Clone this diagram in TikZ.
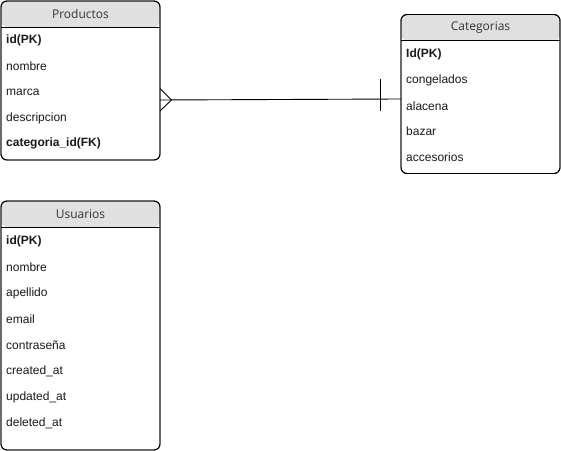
\documentclass[tikz,border=0pt]{standalone}
\usepackage{fontspec}
\setmainfont{Liberation Sans}
\newfontfamily\hdrfont{Open Sans}
\definecolor{hdr}{HTML}{E0E0E0}
\definecolor{hdrtext}{HTML}{333333}
\definecolor{rowtext}{HTML}{1A1A1A}
\tikzset{
  tbl/.style={draw=black, line width=0.9bp, rounded corners=6bp, fill=white,
    anchor=north west, minimum width=#1, inner sep=0pt, outer sep=0pt},
  hdrlabel/.style={font=\hdrfont\fontsize{12bp}{14bp}\selectfont, text=hdrtext, inner sep=0pt},
  row/.style={font=\fontsize{12bp}{14bp}\selectfont, text=rowtext, anchor=west, inner sep=0pt},
  keyrow/.style={row, font=\bfseries\fontsize{12bp}{14bp}\selectfont},
  conn/.style={draw=black, line width=0.9bp},
}
\begin{document}
\begin{tikzpicture}[x=1bp,y=-1bp]
\useasboundingbox (0,0) rectangle (561,451);
% tables
\node[tbl=159bp, minimum height=159bp,
  path picture={\fill[hdr] (path picture bounding box.north west) rectangle ([yshift=-26bp]path picture bounding box.north east);
  \draw[line width=0.9bp] ([yshift=-26bp]path picture bounding box.north west) -- ([yshift=-26bp]path picture bounding box.north east);}]
  (prod) at (1,1) {};
\node[tbl=159bp, minimum height=159bp,
  path picture={\fill[hdr] (path picture bounding box.north west) rectangle ([yshift=-26bp]path picture bounding box.north east);
  \draw[line width=0.9bp] ([yshift=-26bp]path picture bounding box.north west) -- ([yshift=-26bp]path picture bounding box.north east);}]
  (cat) at (401,14.5) {};
\node[tbl=159bp, minimum height=249bp,
  path picture={\fill[hdr] (path picture bounding box.north west) rectangle ([yshift=-26bp]path picture bounding box.north east);
  \draw[line width=0.9bp] ([yshift=-26bp]path picture bounding box.north west) -- ([yshift=-26bp]path picture bounding box.north east);}]
  (usr) at (1,201) {};
% redraw outlines on top
\draw[line width=0.9bp, rounded corners=6bp] (prod.north west) rectangle (prod.south east);
\draw[line width=0.9bp, rounded corners=6bp] (cat.north west) rectangle (cat.south east);
\draw[line width=0.9bp, rounded corners=6bp] (usr.north west) rectangle (usr.south east);
% headers
\node[hdrlabel] (prodh) at (80.5,14) {Productos};
\node[hdrlabel] (cath) at (480.5,27.5) {Categorias};
\node[hdrlabel] (usrh) at (80.5,214) {Usuarios};
% Productos rows
\node[keyrow] (p1) at (6,40) {id(PK)};
\node[row] (p2) at (6,66) {nombre};
\node[row] (p3) at (6,92) {marca};
\node[row] (p4) at (6,118) {descripcion};
\node[keyrow] (p5) at (6,143.5) {categoria\_id(FK)};
% Categorias rows
\node[keyrow] (c1) at (406,54) {Id(PK)};
\node[row] (c2) at (406,80) {congelados};
\node[row] (c3) at (406,106) {alacena};
\node[row] (c4) at (406,131.5) {bazar};
\node[row] (c5) at (406,157.5) {accesorios};
% Usuarios rows
\node[keyrow] (u1) at (6,241) {id(PK)};
\node[row] (u2) at (6,267) {nombre};
\node[row] (u3) at (6,293) {apellido};
\node[row] (u4) at (6,319) {email};
\node[row] (u5) at (6,345) {contraseña};
\node[row] (u6) at (6,371) {created\_at};
\node[row] (u7) at (6,397) {updated\_at};
\node[row] (u8) at (6,423) {deleted\_at};
% connector
\coordinate (ya) at (0,88.5);
\coordinate (yb) at (0,100);
\coordinate (yc) at (0,111);
\coordinate (yd) at (0,99);
\coordinate (apex) at (171.5,100);
\coordinate (bartop) at (380.5,79);
\coordinate (barbot) at (380.5,111);
\draw[conn] (prod.east |- yb) -- (cat.west |- yd);
\draw[conn] (prod.east |- ya) -- (apex) -- (prod.east |- yc);
\draw[conn] (bartop) -- (barbot);
\end{tikzpicture}
\end{document}
